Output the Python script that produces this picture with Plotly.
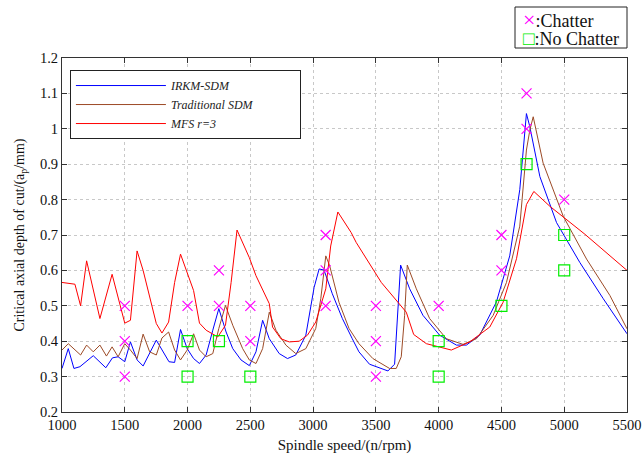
import plotly.graph_objects as go

# IRKM-SDM (blue)
irkm_x = [1000, 1050, 1095, 1143, 1249, 1349, 1402, 1447, 1500, 1545, 1598, 1646, 1751, 1852, 1897, 1944,
          1997, 2048, 2095, 2148, 2201, 2249, 2307, 2360, 2426, 2492, 2545, 2598, 2651, 2730, 2796, 2862,
          2942, 3008, 3048, 3087, 3153, 3233, 3312, 3365, 3449, 3596, 3649, 3697, 3769, 3875, 4008, 4141,
          4221, 4327, 4460, 4566, 4646, 4699, 4726, 4806, 4939, 5125, 5311, 5500]
irkm_y = [0.323, 0.379, 0.323, 0.328, 0.359, 0.325, 0.353, 0.356, 0.342, 0.398, 0.347, 0.330, 0.403, 0.342,
          0.340, 0.433, 0.379, 0.351, 0.337, 0.361, 0.431, 0.492, 0.426, 0.379, 0.347, 0.331, 0.370, 0.459,
          0.407, 0.365, 0.351, 0.361, 0.417, 0.552, 0.604, 0.601, 0.534, 0.464, 0.407, 0.370, 0.335, 0.316,
          0.335, 0.615, 0.548, 0.473, 0.417, 0.389, 0.389, 0.417, 0.511, 0.641, 0.828, 1.043, 1.006, 0.865,
          0.735, 0.622, 0.520, 0.421]

# Traditional SDM (brown)
trad_x = [1000, 1050, 1148, 1196, 1249, 1302, 1354, 1399, 1447, 1500, 1545, 1598, 1646, 1698, 1751, 1796,
          1849, 1897, 1944, 1997, 2048, 2095, 2148, 2201, 2249, 2302, 2360, 2439, 2492, 2545, 2598, 2651,
          2704, 2783, 2862, 2942, 3021, 3061, 3101, 3132, 3206, 3286, 3365, 3476, 3609, 3662, 3702, 3729,
          3750, 3822, 3928, 4061, 4194, 4301, 4434, 4540, 4646, 4699, 4726, 4753, 4832, 4992, 5178, 5364, 5500]
trad_y = [0.375, 0.393, 0.361, 0.389, 0.370, 0.389, 0.358, 0.384, 0.356, 0.393, 0.375, 0.351, 0.420, 0.370,
          0.361, 0.409, 0.426, 0.375, 0.347, 0.375, 0.421, 0.375, 0.356, 0.365, 0.436, 0.501, 0.445, 0.379,
          0.347, 0.337, 0.379, 0.482, 0.431, 0.389, 0.365, 0.379, 0.436, 0.520, 0.641, 0.613, 0.510, 0.436,
          0.393, 0.351, 0.323, 0.323, 0.356, 0.473, 0.615, 0.548, 0.464, 0.407, 0.391, 0.407, 0.473, 0.566,
          0.725, 0.940, 0.996, 1.034, 0.903, 0.753, 0.632, 0.529, 0.435]

# MFS r=3 (red)
mfs_x = [1000, 1103, 1148, 1196, 1302, 1399, 1500, 1545, 1598, 1646, 1751, 1796, 1849, 1897, 1944, 2003,
         2048, 2095, 2148, 2241, 2302, 2347, 2394, 2492, 2545, 2651, 2677, 2743, 2810, 2889, 2955, 3021,
         3101, 3140, 3197, 3303, 3343, 3543, 3742, 3801, 3902, 4101, 4247, 4407, 4513, 4620, 4699, 4758,
         4886, 5165, 5338, 5500]
mfs_y = [0.566, 0.561, 0.500, 0.627, 0.464, 0.589, 0.451, 0.459, 0.655, 0.600, 0.450, 0.423, 0.454, 0.566,
         0.646, 0.585, 0.543, 0.451, 0.431, 0.412, 0.445, 0.566, 0.714, 0.636, 0.585, 0.506, 0.440, 0.407,
         0.398, 0.400, 0.417, 0.454, 0.548, 0.669, 0.765, 0.707, 0.679, 0.566, 0.482, 0.419, 0.393, 0.375,
         0.398, 0.440, 0.510, 0.633, 0.786, 0.823, 0.781, 0.702, 0.650, 0.600]

# Experimental points
chatter_x = [1500, 1500, 1500, 2000, 2250, 2250, 2500, 2500, 3100, 3100, 3100, 3500, 3500, 3500, 4000,
             4500, 4500, 4700, 4700, 5000]
chatter_y = [0.3, 0.4, 0.5, 0.5, 0.5, 0.6, 0.4, 0.5, 0.5, 0.6, 0.7, 0.3, 0.4, 0.5, 0.5,
             0.6, 0.7, 1.0, 1.1, 0.8]
stable_x = [2000, 2000, 2250, 2500, 4000, 4000, 4500, 4700, 5000, 5000]
stable_y = [0.3, 0.4, 0.4, 0.3, 0.3, 0.4, 0.5, 0.9, 0.6, 0.7]

x_ticks = [1000, 1500, 2000, 2500, 3000, 3500, 4000, 4500, 5000, 5500]
y_ticks = [0.2, 0.3, 0.4, 0.5, 0.6, 0.7, 0.8, 0.9, 1.0, 1.1, 1.2]
y_ticktext = ["0.2", "0.3", "0.4", "0.5", "0.6", "0.7", "0.8", "0.9", "1", "1.1", "1.2"]

FONT = "Liberation Serif"
MAGENTA = "#ff00ff"
GREEN = "#00ee00"
PAD = "\u00a0" * 14

fig = go.Figure()
fig.add_trace(go.Scatter(x=irkm_x, y=irkm_y, mode="lines", name="IRKM-SDM",
                         line=dict(color="#0000ff", width=1)))
fig.add_trace(go.Scatter(x=trad_x, y=trad_y, mode="lines", name="Traditional SDM" + PAD,
                         line=dict(color="#9c4a26", width=1)))
fig.add_trace(go.Scatter(x=mfs_x, y=mfs_y, mode="lines", name="MFS r=3",
                         line=dict(color="#ff0000", width=1)))
fig.add_trace(go.Scatter(x=chatter_x, y=chatter_y, mode="markers", name=":Chatter", showlegend=False,
                         marker=dict(symbol="x-thin-open", size=10, color=MAGENTA,
                                     line=dict(color=MAGENTA, width=1.2))))
fig.add_trace(go.Scatter(x=stable_x, y=stable_y, mode="markers", name=":No Chatter", showlegend=False,
                         marker=dict(symbol="square-open", size=11, color=GREEN,
                                     line=dict(color=GREEN, width=1.2))))

axis_common = dict(showline=True, linecolor="#333333", linewidth=1, mirror="ticks",
                   ticks="inside", ticklen=5, tickcolor="#333333", automargin=False,
                   showgrid=True, gridcolor="#c8c8c8", griddash="dot", gridwidth=1,
                   zeroline=False, ticklabeloverflow="allow",
                   tickfont=dict(family=FONT, size=14.5, color="#111111"))

# outer legend box (plot area spans 565 x 354 px; page coordinates 62..627, 58..412)
box_x0 = 1.0 - 112 / 565
box_y0 = (412 - 48) / 354
box_y1 = (412 - 7) / 354

fig.update_layout(
    width=643, height=459,
    margin=dict(l=62, r=16, t=58, b=47, autoexpand=False),
    paper_bgcolor="white", plot_bgcolor="white",
    font=dict(family=FONT, color="#111111"),
    xaxis=dict(range=[1000, 5500], tickvals=x_ticks,
               title=dict(text="Spindle speed/(n/rpm)", standoff=7,
                          font=dict(family=FONT, size=15, color="#111111")),
               **axis_common),
    yaxis=dict(range=[0.2, 1.2], tickvals=y_ticks, ticktext=y_ticktext,
               title=dict(text="Critical axial depth of cut/(a<sub>p</sub>/mm)", standoff=12,
                          font=dict(family=FONT, size=14, color="#111111")),
               **axis_common),
    legend=dict(x=0.014, y=0.966, xanchor="left", yanchor="top",
                bordercolor="#222222", borderwidth=1, bgcolor="white",
                font=dict(family=FONT, size=12, style="italic", color="#222222"),
                itemwidth=90, tracegroupgap=0),
    shapes=[dict(type="rect", xref="paper", yref="paper",
                 x0=box_x0, x1=1.0, y0=box_y0, y1=box_y1,
                 line=dict(color="#222222", width=1), fillcolor="white", layer="above")],
    annotations=[
        dict(xref="paper", yref="paper", x=box_x0 + 7 / 565, y=(412 - 19) / 354,
             xanchor="left", yanchor="middle", showarrow=False, borderpad=0,
             text="<span style='color:%s;font-size:22px'>×</span>:Chatter" % MAGENTA,
             font=dict(family=FONT, size=18, color="#111111")),
        dict(xref="paper", yref="paper", x=box_x0 + 7 / 565, y=(412 - 38) / 354,
             xanchor="left", yanchor="middle", showarrow=False, borderpad=0,
             text="<span style='color:%s;font-size:19px'>□</span>:No Chatter" % GREEN,
             font=dict(family=FONT, size=18, color="#111111")),
    ],
)

fig.write_html("out.html", config={"displayModeBar": False},
               post_script="document.body.style.margin='0';document.body.style.overflow='hidden';")
